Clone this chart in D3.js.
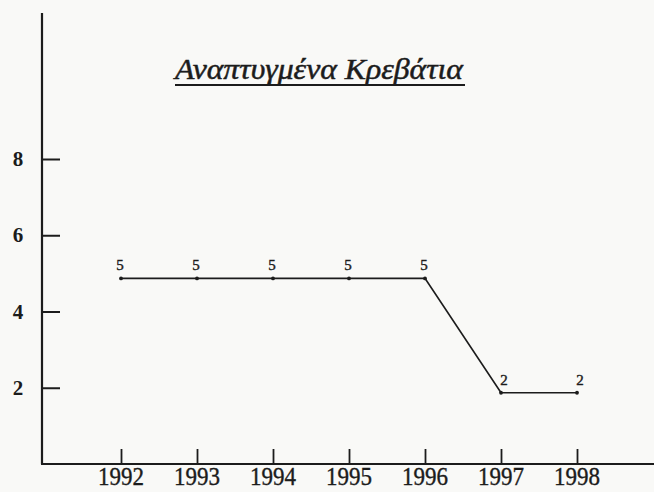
<!DOCTYPE html>
<html>
<head>
<meta charset="utf-8">
<script src="https://cdn.jsdelivr.net/npm/d3@7"></script>
<style>
  html, body { margin: 0; padding: 0; background: #f9f9f7; }
  svg { display: block; }
  text { paint-order: stroke; }
</style>
</head>
<body>
<script>
// Developed hospital beds per year
const years = [1992, 1993, 1994, 1995, 1996, 1997, 1998];
const beds = [5, 5, 5, 5, 5, 2, 2];
const yTicks = [2, 4, 6, 8];
const title = "Αναπτυγμένα Κρεβάτια";

const W = 654, H = 492;
const ink = "#1c1c1c";
const font = "'Liberation Serif', 'DejaVu Serif', serif";

const svg = d3.select("body").append("svg")
  .attr("width", W).attr("height", H);

const originX = 42, originY = 464;

const x = d3.scalePoint()
  .domain(years)
  .range([121, 577]);

const y = d3.scaleLinear()
  .domain([0, 8])
  .range([originY, 159]);

// Axes lines
svg.append("line")
  .attr("x1", originX).attr("x2", originX)
  .attr("y1", 13).attr("y2", originY)
  .attr("stroke", ink).attr("stroke-width", 2.2);
svg.append("line")
  .attr("x1", originX - 1).attr("x2", W)
  .attr("y1", originY).attr("y2", originY)
  .attr("stroke", ink).attr("stroke-width", 2.2);

// Y axis: ticks point inward, labels on the left
const yAxis = d3.axisRight(y).tickValues(yTicks).tickSize(18).tickFormat("");
const gy = svg.append("g").attr("transform", `translate(${originX},0)`).call(yAxis);
gy.select(".domain").remove();
gy.selectAll(".tick line").attr("stroke", ink).attr("stroke-width", 2);

svg.append("g").selectAll("text").data(yTicks).join("text")
  .attr("x", 18).attr("y", d => y(d) + 7)
  .attr("text-anchor", "middle")
  .attr("font-family", font).attr("font-size", 21).attr("font-weight", "bold")
  .attr("fill", ink)
  .text(d => d);

// X axis: ticks point up, year labels below
const xAxis = d3.axisTop(x).tickSize(15).tickFormat("");
const gx = svg.append("g").attr("transform", `translate(0,${originY})`).call(xAxis);
gx.select(".domain").remove();
gx.selectAll(".tick line").attr("stroke", ink).attr("stroke-width", 1.8);

svg.append("g").selectAll("text").data(years).join("text")
  .attr("x", d => x(d)).attr("y", 485)
  .attr("text-anchor", "middle")
  .attr("font-family", font).attr("font-size", 26)
  .attr("textLength", 46).attr("lengthAdjust", "spacingAndGlyphs")
  .attr("fill", ink).attr("stroke", ink).attr("stroke-width", 0.4)
  .text(d => d);

// Data line
const pts = years.map((yr, i) => ({ yr, v: beds[i] }));
svg.append("path")
  .datum(pts)
  .attr("fill", "none")
  .attr("stroke", ink).attr("stroke-width", 1.7)
  .attr("d", d3.line().x(d => x(d.yr)).y(d => y(d.v) + 5));

svg.append("g").selectAll("circle").data(pts).join("circle")
  .attr("cx", d => x(d.yr)).attr("cy", d => y(d.v) + 5)
  .attr("r", 1.9).attr("fill", ink);

// Value labels
svg.append("g").selectAll("text").data(pts).join("text")
  .attr("x", d => x(d.yr) + (d.v < 5 ? 3 : -1)).attr("y", d => y(d.v) - 3)
  .attr("text-anchor", "middle")
  .attr("font-family", font).attr("font-size", 15)
  .attr("fill", ink).attr("stroke", ink).attr("stroke-width", 0.4)
  .text(d => d.v);

// Title, italic and underlined
svg.append("text")
  .attr("x", 175).attr("y", 79)
  .attr("font-family", font).attr("font-size", 29).attr("font-style", "italic")
  .attr("textLength", 288).attr("lengthAdjust", "spacingAndGlyphs")
  .attr("fill", ink).attr("stroke", ink).attr("stroke-width", 0.5)
  .text(title);
svg.append("line")
  .attr("x1", 175).attr("x2", 465)
  .attr("y1", 85).attr("y2", 85)
  .attr("stroke", ink).attr("stroke-width", 1.8);
</script>
</body>
</html>
